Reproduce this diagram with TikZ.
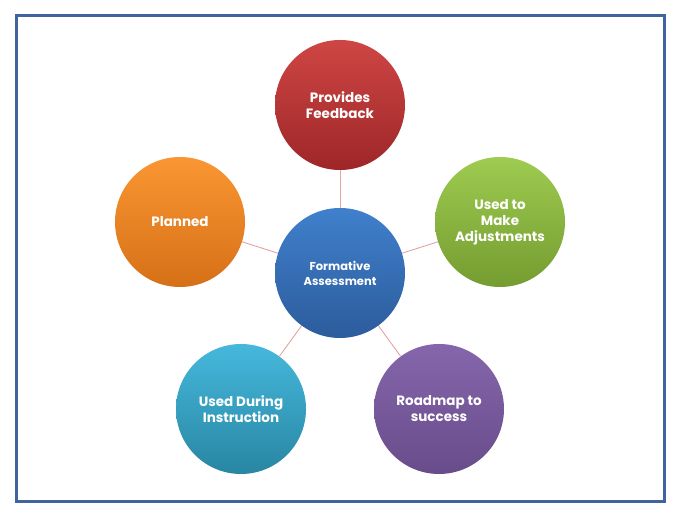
\documentclass[tikz,border=0pt]{standalone}
\usepackage{fontspec}
\setmainfont{Poppins}
\definecolor{frameblue}{HTML}{3F64A0}
\definecolor{spokered}{HTML}{E3A3A3}

\begin{document}
\begin{tikzpicture}
[x=1pt,y=1pt,
 bubble/.style={circle,minimum size=130pt,inner sep=0pt,align=center,text=white,
   font=\bfseries\fontsize{13.5}{16}\selectfont},
 spoke/.style={draw=spokered,line width=0.9pt}]
\useasboundingbox (0,0) rectangle (680,518);
\draw[frameblue,line width=3pt] (16,16) rectangle (664,502);

\node[bubble,top color={rgb,255:red,206;green,70;blue,68},bottom color={rgb,255:red,158;green,38;blue,40}] (c1) at (340,413) {Provides\\Feedback};
\node[bubble,top color={rgb,255:red,158;green,203;blue,80},bottom color={rgb,255:red,116;green,156;blue,48}] (c2) at (500,296) {Used to\\Make\\Adjustments};
\node[bubble,top color={rgb,255:red,133;green,102;blue,172},bottom color={rgb,255:red,104;green,76;blue,138}] (c3) at (439,109) {Roadmap to\\success};
\node[bubble,top color={rgb,255:red,70;green,184;blue,220},bottom color={rgb,255:red,40;green,134;blue,162}] (c4) at (241,109) {Used During\\Instruction};
\node[bubble,top color={rgb,255:red,250;green,150;blue,50},bottom color={rgb,255:red,214;green,112;blue,24}] (c5) at (180,296) {Planned};

\foreach \to in {c1,c2,c3,c4,c5}
\draw[spoke] (340,245) -- (\to);

\node[bubble,top color={rgb,255:red,64;green,128;blue,204},bottom color={rgb,255:red,44;green,92;blue,156},
  font=\bfseries\fontsize{11.5}{15}\selectfont] (c0) at (340,245) {Formative\\Assessment};
\end{tikzpicture}
\end{document}
